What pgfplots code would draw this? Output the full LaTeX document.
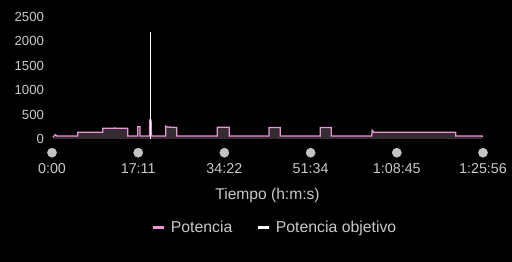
\documentclass[border=0pt]{standalone}
\usepackage{pgfplots}
\pgfplotsset{compat=1.18}
\usepackage{fontspec}
\setmainfont{Liberation Sans}
\definecolor{pinkline}{RGB}{232,150,212}
\definecolor{ticktxt}{RGB}{200,200,200}
\definecolor{dotgray}{RGB}{196,196,196}
\definecolor{areafill}{RGB}{52,44,50}
\begin{document}
\begin{tikzpicture}
\fill[black] (0,0) rectangle (512pt,262pt);
\begin{axis}[
  at={(52pt,123pt)}, anchor=south west,
  scale only axis, width=431pt, height=122.3pt,
  xmin=0, xmax=5156, ymin=0, ymax=2500,
  clip=false,
  axis line style={draw=none},
  major tick length=0pt,
  ytick={0,500,1000,1500,2000,2500},
  xtick={0,1031,2062,3094,4125,5156},
  xticklabels={0:00,17:11,34:22,51:34,1:08:45,1:25:56},
  /pgf/number format/assume math mode=true,
  /pgf/number format/1000 sep={},
  yticklabel style={font=\fontsize{13.2}{15}\selectfont, text=ticktxt, xshift=-4.5pt},
  xticklabel style={font=\fontsize{14.3}{16}\selectfont, text=ticktxt, anchor=base, yshift=-35pt},
  xlabel={Tiempo (h:m:s)},
  xlabel style={at={(axis description cs:0.5,0)}, anchor=center, yshift=-56pt, font=\fontsize{15.6}{18}\selectfont, text=ticktxt},
  legend columns=2,
  legend style={at={(axis description cs:0.517,0)}, anchor=center, yshift=-89pt, draw=none, fill=none, text=ticktxt, font=\fontsize{15.8}{18}\selectfont,
    /tikz/every odd column/.append style={column sep=3pt},
    /tikz/every even column/.append style={column sep=22pt}},
  legend image code/.code={\draw[#1, line width=3pt] (0pt,0pt) -- (11.5pt,0pt);},
]
\addplot[draw=none, fill=areafill, forget plot] coordinates {
(12,40) (40,90) (60,60) (307,60) (307,137) (607,137) (607,219) (750,222) (906,219) (906,61) (1025,61) (1025,251) (1053,251) (1053,61) (1165,61) (1170,388) (1185,388) (1190,61) (1360,61) (1360,262) (1380,245) (1492,235) (1492,61) (1978,61) (1978,239) (2121,239) (2121,61) (2596,61) (2596,235) (2731,235) (2731,61) (3210,61) (3210,235) (3341,235) (3341,61) (3825,61) (3830,178) (3850,137) (4830,137) (4830,61) (5148,61) (5148,40)
} \closedcycle;
\addplot[pinkline, line width=1.3pt] coordinates {
(12,40) (40,90) (60,60) (307,60) (307,137) (607,137) (607,219) (750,222) (906,219) (906,61) (1025,61) (1025,251) (1053,251) (1053,61) (1165,61) (1170,388) (1185,388) (1190,61) (1360,61) (1360,262) (1380,245) (1492,235) (1492,61) (1978,61) (1978,239) (2121,239) (2121,61) (2596,61) (2596,235) (2731,235) (2731,61) (3210,61) (3210,235) (3341,235) (3341,61) (3825,61) (3830,178) (3850,137) (4830,137) (4830,61) (5148,61) (5148,40)
};
\addlegendentry{Potencia}
\addplot[white, line width=1.4pt] coordinates {(1176,0) (1176,2180)};
\addlegendentry{Potencia objetivo}
\addplot[only marks, mark=*, mark size=4.6pt, color=dotgray, forget plot] coordinates {
(0,-280) (1031,-280) (2062,-280) (3094,-280) (4125,-280) (5156,-280)
};
\end{axis}
\pgfresetboundingbox
\path (0,0) rectangle (512pt,262pt);
\end{tikzpicture}
\end{document}
